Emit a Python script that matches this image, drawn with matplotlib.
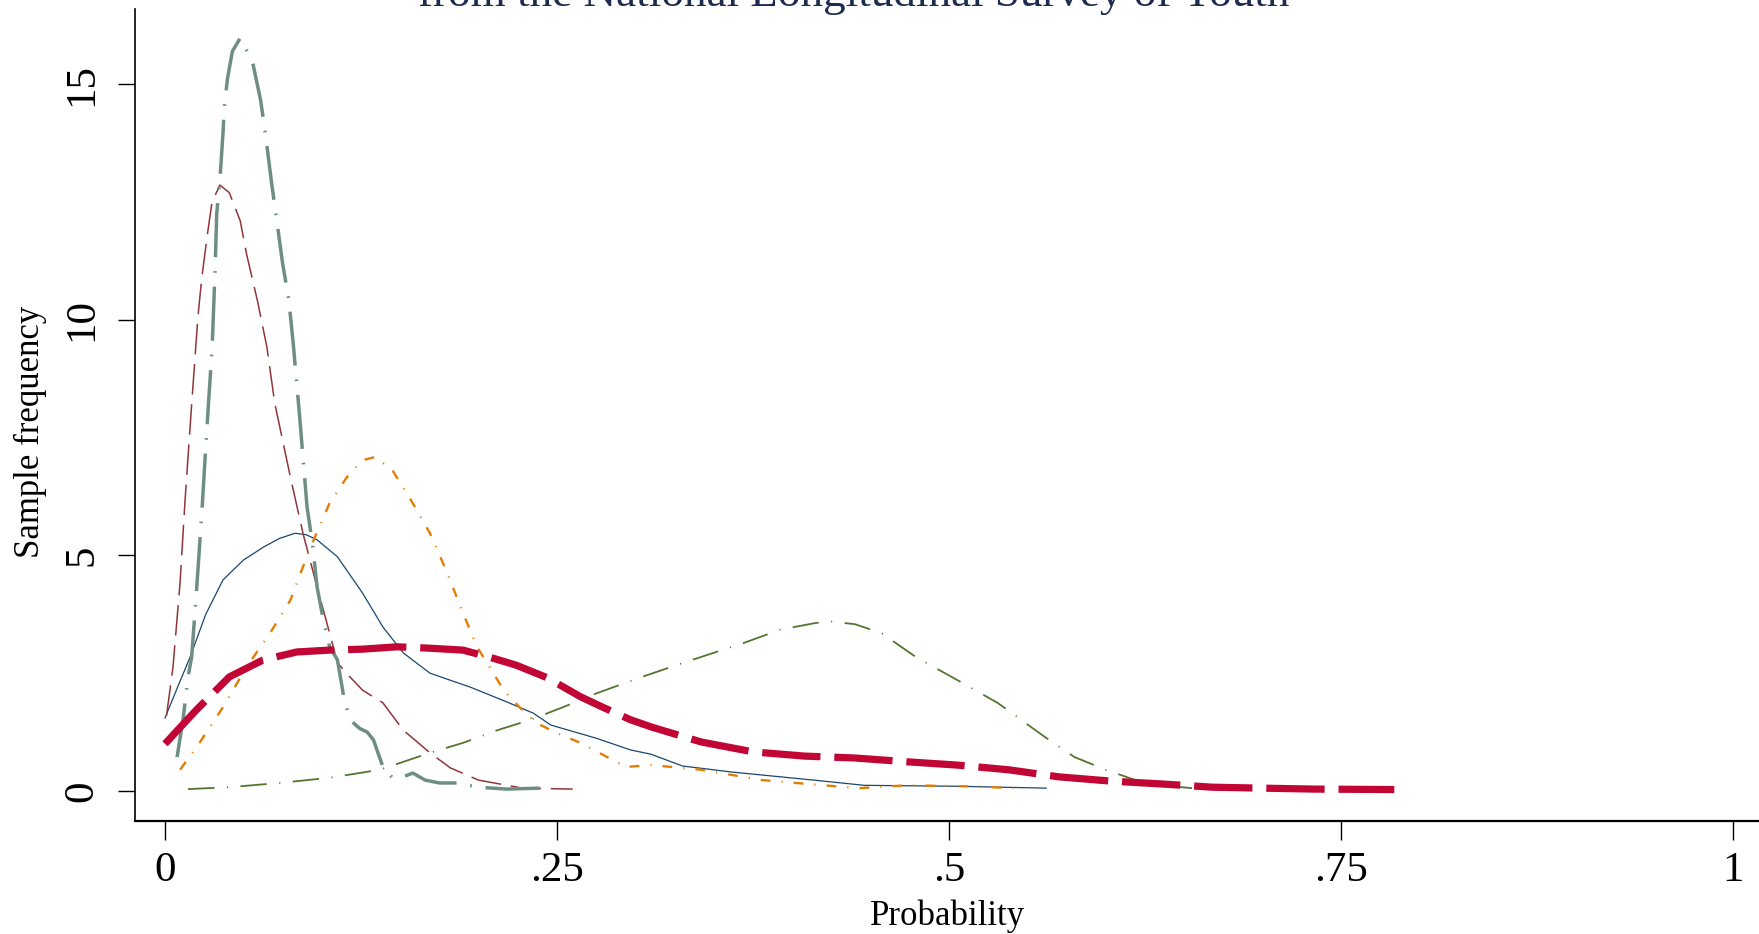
import matplotlib
matplotlib.use("Agg")
import matplotlib.pyplot as plt

plt.rcParams['font.family'] = ['Liberation Serif', 'DejaVu Serif']
plt.rcParams['lines.scale_dashes'] = False

# kernel density curves (x = probability, y = density)
navy_x = [0.0, 0.008, 0.016, 0.026, 0.037, 0.05, 0.063, 0.073, 0.083, 0.09, 0.097, 0.11,
          0.126, 0.139, 0.152, 0.169, 0.195, 0.218, 0.235, 0.246, 0.275, 0.297, 0.31, 0.33,
          0.362, 0.414, 0.446, 0.505, 0.562]
navy_y = [1.55, 2.2, 2.84, 3.75, 4.48, 4.9, 5.18, 5.36, 5.47, 5.44, 5.33, 4.97,
          4.2, 3.48, 2.93, 2.5, 2.2, 1.89, 1.65, 1.4, 1.12, 0.87, 0.78, 0.53,
          0.4, 0.23, 0.12, 0.1, 0.06]

maroon_x = [0.001, 0.0051, 0.0096, 0.0128, 0.017, 0.021, 0.0235, 0.027, 0.030, 0.035,
            0.041, 0.048, 0.052, 0.059, 0.065, 0.070, 0.080, 0.088, 0.097, 0.105, 0.11,
            0.118, 0.126, 0.139, 0.152, 0.169, 0.182, 0.2, 0.228, 0.26]
maroon_y = [1.6, 2.63, 4.41, 6.17, 8.2, 10.06, 10.9, 11.8, 12.5, 12.86,
            12.7, 12.1, 11.4, 10.4, 9.42, 8.23, 6.66, 5.47, 4.33, 3.35, 2.72,
            2.42, 2.14, 1.87, 1.29, 0.81, 0.49, 0.23, 0.06, 0.04]

olive_x = [0.0147, 0.041, 0.073, 0.105, 0.137, 0.169, 0.19, 0.212, 0.233, 0.254, 0.275,
           0.304, 0.336, 0.369, 0.392, 0.414, 0.424, 0.44, 0.457, 0.479, 0.505, 0.531,
           0.561, 0.58, 0.6, 0.619, 0.635, 0.655]
olive_y = [0.04, 0.08, 0.17, 0.28, 0.45, 0.81, 1.02, 1.29, 1.51, 1.78, 2.07,
           2.42, 2.78, 3.14, 3.42, 3.56, 3.6, 3.54, 3.35, 2.84, 2.36, 1.87,
           1.15, 0.72, 0.45, 0.23, 0.12, 0.06]

orange_x = [0.0096, 0.022, 0.037, 0.052, 0.067, 0.080, 0.092, 0.105, 0.116, 0.126, 0.134,
            0.145, 0.158, 0.169, 0.18, 0.19, 0.199, 0.207, 0.216, 0.226, 0.237, 0.25,
            0.265, 0.282, 0.294, 0.31, 0.342, 0.381, 0.424, 0.443, 0.473, 0.511, 0.541]
orange_y = [0.45, 1.02, 1.78, 2.63, 3.35, 4.05, 5.11, 6.11, 6.66, 7.02, 7.09,
            6.81, 6.11, 5.47, 4.63, 3.78, 3.06, 2.63, 2.14, 1.78, 1.44, 1.23,
            1.02, 0.72, 0.51, 0.55, 0.45, 0.23, 0.11, 0.06, 0.12, 0.1, 0.06]

teal_x = [0.0077, 0.0115, 0.0147, 0.017, 0.020, 0.0236, 0.0255, 0.028, 0.030, 0.032, 0.033,
          0.035, 0.037, 0.038, 0.040, 0.043, 0.048, 0.053, 0.056, 0.061, 0.064, 0.068,
          0.071, 0.075, 0.079, 0.082, 0.086, 0.0906, 0.094, 0.097, 0.101, 0.105, 0.11,
          0.114, 0.118, 0.124, 0.129, 0.133, 0.139, 0.145, 0.152, 0.158, 0.166, 0.175,
          0.186, 0.2, 0.218, 0.239]
teal_y = [0.72, 1.51, 2.42, 2.84, 4.2, 5.96, 7.02, 8.36, 9.36, 11.1, 12.26,
          12.96, 13.96, 14.6, 15.15, 15.7, 15.98, 15.66, 15.45, 14.66, 13.96, 12.9,
          12.18, 11.2, 10.42, 9.42, 7.9, 6.03, 5.26, 4.33, 3.63, 3.06, 2.78,
          2.0, 1.51, 1.33, 1.25, 1.08, 0.51, 0.28, 0.3, 0.38, 0.23, 0.17,
          0.17, 0.08, 0.04, 0.06]

cran_x = [0.0, 0.02, 0.041, 0.0625, 0.084, 0.105, 0.126, 0.148, 0.169, 0.19, 0.207, 0.224,
          0.244, 0.265, 0.279, 0.297, 0.31, 0.342, 0.375, 0.408, 0.44, 0.473, 0.505, 0.538,
          0.57, 0.603, 0.635, 0.668, 0.70, 0.733, 0.784]
cran_y = [1.0, 1.72, 2.42, 2.78, 2.95, 2.99, 3.01, 3.06, 3.03, 2.99, 2.84, 2.67,
          2.4, 2.0, 1.78, 1.51, 1.36, 1.04, 0.83, 0.74, 0.70, 0.62, 0.55, 0.45,
          0.30, 0.21, 0.15, 0.08, 0.06, 0.04, 0.03]

x_ticks = [0, 0.25, 0.5, 0.75, 1]
x_labels = ["0", ".25", ".5", ".75", "1"]
y_ticks = [0, 5, 10, 15]

fig = plt.figure(figsize=(17.59, 9.34), dpi=100)
ax = fig.add_axes([0.0765, 0.121, 0.9235, 0.869])

ax.plot(navy_x, navy_y, color="#1a476f", lw=0.9)
ax.plot(maroon_x, maroon_y, color="#90353b", lw=1.1, dashes=(22, 7))
ax.plot(olive_x, olive_y, color="#55752f", lw=1.3, dashes=(19, 9, 0.8, 9))
ax.plot(orange_x, orange_y, color="#e37e00", lw=1.7, dashes=(7, 8, 0.8, 8))
ax.plot(teal_x, teal_y, color="#6e8e84", lw=2.5, dashes=(39, 10, 1.2, 10))
ax.plot(cran_x, cran_y, color="#c10534", lw=5.2, dashes=(42, 10))

ax.set_xlim(-0.0194, 1.0166)
ax.set_ylim(-0.637, 16.59)
ax.set_xticks(x_ticks)
ax.set_xticklabels(x_labels)
ax.set_yticks(y_ticks)
ax.set_yticklabels([str(v) for v in y_ticks], rotation=90, va="center")
ax.tick_params(axis="x", length=14, width=1, labelsize=31, pad=8)
ax.tick_params(axis="y", length=12, width=1, labelsize=31, pad=12)
for s in ["top", "right"]:
    ax.spines[s].set_visible(False)
ax.spines["left"].set_linewidth(1.2)
ax.spines["bottom"].set_linewidth(1.6)

fig.text(30 / 1759, 1 - 432 / 934, "Sample frequency", rotation=90, fontsize=25,
         ha="center", va="center")
fig.text(948 / 1759, 1 - 916 / 934, "Probability", fontsize=25, ha="center", va="center")
fig.text(854 / 1759, 1 - 6 / 934, "from the National Longitudinal Survey of Youth",
         fontsize=32.5, color="#1c2b4e", ha="center", va="baseline")

fig.savefig("out.png", dpi=100)
